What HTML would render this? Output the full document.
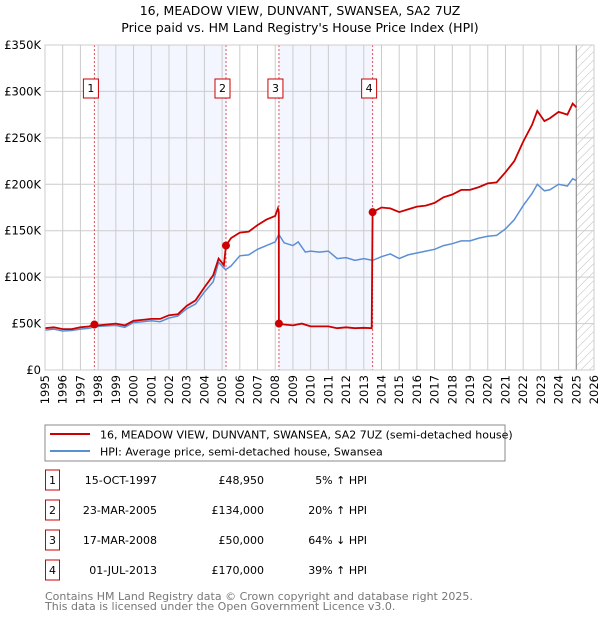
<!DOCTYPE html>
<html><head><meta charset="utf-8"><style>
body{margin:0;background:#fff;font-family:"DejaVu Sans","Liberation Sans",sans-serif;}
svg text{font-family:"DejaVu Sans","Liberation Sans",sans-serif;}
</style></head><body>
<svg id="c" width="600" height="620" xmlns="http://www.w3.org/2000/svg">
<defs><pattern id="hatch" width="6" height="6" patternUnits="userSpaceOnUse" patternTransform="rotate(45)"><line x1="0" y1="0" x2="0" y2="6" stroke="#bbb" stroke-width="1"/></pattern></defs>
<text x="300" y="15" text-anchor="middle" font-size="12.5">16, MEADOW VIEW, DUNVANT, SWANSEA, SA2 7UZ</text>
<text x="300" y="32" text-anchor="middle" font-size="12.5">Price paid vs. HM Land Registry's House Price Index (HPI)</text>
<g id="plot"></g>
<rect x="45" y="425" width="460" height="36" fill="#fff" stroke="#888"/>
<line x1="50" y1="434" x2="90" y2="434" stroke="#cc0000" stroke-width="2"/>
<text x="100" y="438.5" font-size="11">16, MEADOW VIEW, DUNVANT, SWANSEA, SA2 7UZ (semi-detached house)</text>
<line x1="50" y1="451" x2="90" y2="451" stroke="#5b8fd4" stroke-width="2"/>
<text x="100" y="455.5" font-size="11">HPI: Average price, semi-detached house, Swansea</text>
<g id="tbl"></g>
<text x="45" y="600" font-size="11" fill="#777">Contains HM Land Registry data © Crown copyright and database right 2025.</text>
<text x="45" y="610" font-size="11" fill="#777">This data is licensed under the Open Government Licence v3.0.</text>
</svg>
<script>
const hpiT=[1995,1995.5,1996,1996.5,1997,1997.5,1997.8,1998,1998.5,1999,1999.5,2000,2000.5,2001,2001.5,2002,2002.5,2003,2003.5,2004,2004.5,2004.8,2005.2,2005.5,2006,2006.5,2007,2007.5,2008,2008.2,2008.5,2009,2009.3,2009.7,2010,2010.5,2011,2011.5,2012,2012.5,2013,2013.5,2014,2014.5,2015,2015.5,2016,2016.5,2017,2017.5,2018,2018.5,2019,2019.5,2020,2020.5,2021,2021.5,2022,2022.5,2022.8,2023.2,2023.5,2024,2024.5,2024.8,2025];
const hpiV=[43,44,42,42.5,44,45,46.5,47,47.5,48,46,51,52,53,52,56,58,66,71,84,95,116,108,112,123,124,130,134,138,146,137,134,138,127,128,127,128,120,121,118,120,118,122,125,120,124,126,128,130,134,136,139,139,142,144,145,152,162,177,190,200,193,194,200,198,206,204];
const redT=[1995,1995.5,1996,1996.5,1997,1997.5,1997.79,1998,1998.5,1999,1999.5,2000,2000.5,2001,2001.5,2002,2002.5,2003,2003.5,2004,2004.5,2004.8,2005.1,2005.22,2005.5,2006,2006.5,2007,2007.5,2008,2008.15,2008.2,2008.21,2008.5,2009,2009.5,2010,2010.5,2011,2011.5,2012,2012.5,2013,2013.45,2013.5,2014,2014.5,2015,2015.5,2016,2016.5,2017,2017.5,2018,2018.5,2019,2019.5,2020,2020.5,2021,2021.5,2022,2022.5,2022.8,2023.2,2023.5,2024,2024.5,2024.8,2025];
const redV=[45,46,44,44,46,47,48.95,48,49,50,48,53,54,55,55,59,60,69,75,89,102,120,113,134,142,148,149,156,162,166,174,170,50,49,48,50,47,47,47,45,46,45,45.5,45,170,175,174,170,173,176,177,180,186,189,194,194,197,201,202,213,225,246,264,279,268,271,278,275,287,283];
const saleT=[1997.79,2005.22,2008.21,2013.5];
const saleV=[48.95,134,50,170];
const saleLabels=["1","2","3","4"];
const saleDates=["15-OCT-1997","23-MAR-2005","17-MAR-2008","01-JUL-2013"];
const salePrices=["£48,950","£134,000","£50,000","£170,000"];
const saleHpi=["5% ↑ HPI","20% ↑ HPI","64% ↓ HPI","39% ↑ HPI"];
const yTicks=[0,50,100,150,200,250,300,350];
const yLabels=["£0","£50K","£100K","£150K","£200K","£250K","£300K","£350K"];
const xYears=[1995,1996,1997,1998,1999,2000,2001,2002,2003,2004,2005,2006,2007,2008,2009,2010,2011,2012,2013,2014,2015,2016,2017,2018,2019,2020,2021,2022,2023,2024,2025,2026];

const L=45,R=594,T=45,B=370;
const X=t=>L+(t-1995)*(R-L)/31;
const Y=v=>B-v*(B-T)/350;
const NS="http://www.w3.org/2000/svg";
const g=document.getElementById('plot');
function mk(tag,at,parent){const e=document.createElementNS(NS,tag);for(const k in at)e.setAttribute(k,at[k]);(parent||g).appendChild(e);return e;}

let e;
e=mk('rect',{x:L,y:T,width:R-L,height:B-T,fill:'#fff'});


e=mk('rect',{x:98,y:T,width:X(saleT[1])-98,height:B-T,fill:'#f3f6fe'});


e=mk('rect',{x:X(saleT[2]),y:T,width:X(saleT[3])-X(saleT[2]),height:B-T,fill:'#f3f6fe'});


e=mk('rect',{x:X(2025),y:T,width:R-X(2025),height:B-T,fill:'url(#hatch)'});


xYears.forEach((yr,i)=>{
  e=mk('line',{x1:X(yr),x2:X(yr),y1:T,y2:B,stroke:'#ccc','stroke-width':1});
  
  
  e=mk('text',{transform:`translate(${X(yr)+4},${B+5}) rotate(-90)`,'text-anchor':'end','font-size':11.5});
  e.textContent=yr;
  
  
});
yTicks.forEach((v,i)=>{
  e=mk('line',{x1:L,x2:R,y1:Y(v),y2:Y(v),stroke:'#ccc','stroke-width':1});
  
  
  e=mk('text',{x:L-4,y:Y(v)+4,'text-anchor':'end','font-size':11.5});
  e.textContent=yLabels[i];
  
  
});
e=mk('line',{x1:X(2025),x2:X(2025),y1:T,y2:B,stroke:'#888','stroke-width':1});


saleT.forEach((t,i)=>{
  e=mk('line',{x1:X(t),x2:X(t),y1:T,y2:B,stroke:'#e05060','stroke-width':1,'stroke-dasharray':'2,2'});
  
  
});
const pts=(ts,vs)=>ts.map((t,i)=>X(t).toFixed(1)+','+Y(vs[i]).toFixed(1)).join(' ');
e=mk('polyline',{points:pts(hpiT,hpiV),fill:'none',stroke:'#5b8fd4','stroke-width':1.5});


e=mk('polyline',{points:pts(redT,redV),fill:'none',stroke:'#cc0000','stroke-width':1.8});


saleT.forEach((t,i)=>{
  e=mk('circle',{cx:X(t),cy:Y(saleV[i]),r:4,fill:'#cc0000'});
  
  
  e=mk('rect',{x:X(t)-11,y:79,width:15,height:19,fill:'#fff',stroke:'#cc0000','stroke-width':1});
  
  
  e=mk('text',{x:X(t)-3.5,y:92,'text-anchor':'middle','font-size':11});
  e.textContent=saleLabels[i];
  
  
});
const tb=document.getElementById('tbl');
saleT.forEach((t,i)=>{
  const y0=476+i*30;
  e=mk('rect',{x:45.5,y:y0-20+14,width:14,height:20,fill:'#fff',stroke:'#cc0000'},tb);
  
  
  const ty=y0+8;
  e=mk('text',{x:52.5,y:ty,'text-anchor':'middle','font-size':11},tb);e.textContent=saleLabels[i];
  
  
  e=mk('text',{x:157,y:ty,'text-anchor':'end','font-size':11},tb);e.textContent=saleDates[i];
  
  
  e=mk('text',{x:264,y:ty,'text-anchor':'end','font-size':11},tb);e.textContent=salePrices[i];
  
  
  e=mk('text',{x:367,y:ty,'text-anchor':'end','font-size':11},tb);e.textContent=saleHpi[i];
  
  
});
e=mk('rect',{x:L,y:T,width:R-L,height:B-T,fill:'none',stroke:'#ccc'});


</script>
</body></html>
